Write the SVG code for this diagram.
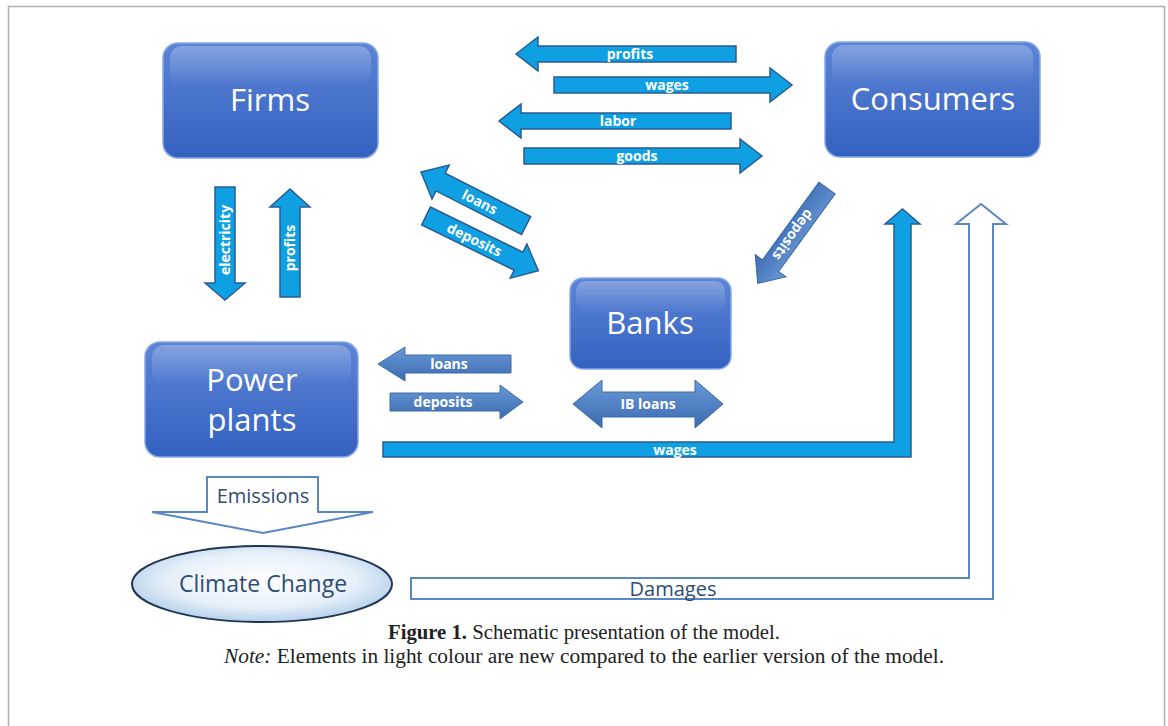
<svg xmlns="http://www.w3.org/2000/svg" width="1168" height="726" viewBox="0 0 1168 726">
  <style>
    .box { fill: url(#boxFill); stroke: #86a8e6; stroke-width: 1.5; }
    .gloss { fill: url(#gloss); }
    .boxText { font-family: "Open Sans", "Liberation Sans", sans-serif; font-size: 31px; fill: #ffffff; text-anchor: middle; }
    .flow { fill: #0ea0e2; stroke: #2a5c92; stroke-width: 1.5; stroke-linejoin: miter; }
    .bankFlow { fill: url(#steel); stroke: #3c6aa6; stroke-width: 1; }
    .outline { fill: #ffffff; stroke: #5a86c4; stroke-width: 2; }
    .lbl { font-family: "Open Sans", "Liberation Sans", sans-serif; font-size: 14px; font-weight: bold; fill: #ffffff; text-anchor: middle; }
    .soft { font-family: "Open Sans", "Liberation Sans", sans-serif; font-size: 20px; fill: #2f4c72; text-anchor: middle; }
    .big { font-size: 23px; }
    .cap { font-family: "Liberation Serif", serif; font-size: 20.5px; fill: #222222; text-anchor: middle; }
  </style>
  <defs>
    <linearGradient id="boxFill" x1="0" y1="0" x2="0" y2="1">
      <stop offset="0" stop-color="#5c85d6"/>
      <stop offset="1" stop-color="#3460c0"/>
    </linearGradient>
    <linearGradient id="gloss" x1="0" y1="0" x2="0" y2="1">
      <stop offset="0" stop-color="#ffffff" stop-opacity="0.25"/>
      <stop offset="1" stop-color="#ffffff" stop-opacity="0"/>
    </linearGradient>
    <linearGradient id="steel" x1="0" y1="0" x2="0" y2="1">
      <stop offset="0" stop-color="#6a9ad8"/>
      <stop offset="1" stop-color="#3b6ab0"/>
    </linearGradient>
    <radialGradient id="cloud" cx="0.5" cy="0.45" r="0.6">
      <stop offset="0" stop-color="#ffffff"/>
      <stop offset="0.6" stop-color="#e6f0fa"/>
      <stop offset="1" stop-color="#a9c8e6"/>
    </radialGradient>
  </defs>

  <!-- page frame -->
  <rect x="8.5" y="6.5" width="1156" height="730" fill="#ffffff" stroke="#b0b0b0" stroke-width="1.5"/>

  <!-- flows between the sectors -->
  <g id="connectors">
    <!-- firms <-> consumers -->
    <polygon class="flow" points="516,54 538,37 538,46 736,46 736,62 538,62 538,71"/>
    <text class="lbl" x="630" y="59">profits</text>
    <polygon class="flow" points="554,77 770,77 770,68 792,85 770,102 770,93 554,93"/>
    <text class="lbl" x="667" y="90">wages</text>
    <polygon class="flow" points="499,121 521,104 521,113 731,113 731,129 521,129 521,138"/>
    <text class="lbl" x="618" y="126">labor</text>
    <polygon class="flow" points="524,148 740,148 740,139 762,156 740,173 740,164 524,164"/>
    <text class="lbl" x="637" y="161">goods</text>

    <!-- firms <-> power plants -->
    <polygon class="flow" points="215,187 235,187 235,283 245,283 225,300 205,283 215,283"/>
    <text class="lbl" transform="translate(225,240) rotate(-90)" y="5">electricity</text>
    <polygon class="flow" points="280,297 300,297 300,207 310,207 290,189 270,207 280,207"/>
    <text class="lbl" transform="translate(290,248) rotate(-90)" y="5">profits</text>

    <!-- firms <-> banks -->
    <g transform="translate(421,172) rotate(27)">
      <polygon class="flow" points="0,0 22,-19 22,-10 118,-10 118,10 22,10 22,19"/>
      <text class="lbl" x="66" y="5">loans</text>
    </g>
    <g transform="translate(426,216) rotate(26)">
      <polygon class="flow" points="0,-10 103,-10 103,-19 125,0 103,19 103,10 0,10"/>
      <text class="lbl" x="54" y="5">deposits</text>
    </g>

    <!-- consumers -> banks -->
    <g transform="translate(827,188) rotate(126)">
      <polygon class="bankFlow" points="0,-10 96,-10 96,-19 118,0 96,19 96,10 0,10"/>
      <text class="lbl" x="58" y="5">deposits</text>
    </g>

    <!-- power plants <-> banks -->
    <polygon class="bankFlow" points="378,364 405,347 405,355 511,355 511,373 405,373 405,381"/>
    <text class="lbl" x="449" y="369">loans</text>
    <polygon class="bankFlow" points="390,393 500,393 500,385 523,402 500,419 500,411 390,411"/>
    <text class="lbl" x="443" y="407">deposits</text>

    <!-- interbank loans -->
    <polygon class="bankFlow" points="573,404 602,380 602,392 695,392 695,380 723,404 695,428 695,417 602,417 602,428"/>
    <text class="lbl" x="648" y="409">IB loans</text>

    <!-- power plants -> consumers wages -->
    <polygon class="flow" points="383,442 894,442 894,224 885,224 902.5,209 920,224 911,224 911,457 383,457"/>
    <text class="lbl" x="675" y="455">wages</text>

    <!-- emissions -->
    <polygon class="outline" points="207,477 318,477 318,512 373,512 263,533 152,512 207,512"/>
    <text class="soft" x="263" y="503">Emissions</text>

    <!-- damages -->
    <polygon class="outline" points="411,578 969,578 969,224 956,224 981,204 1006,224 993,224 993,599 411,599"/>
    <text class="soft" x="673" y="596">Damages</text>
  </g>

  <g id="firms">
    <rect class="box" x="163" y="43" width="215" height="115" rx="15"/>
    <rect class="gloss" x="170" y="46" width="201" height="40" rx="12"/>
    <text class="boxText" x="270" y="111">Firms</text>
  </g>

  <g id="consumers">
    <rect class="box" x="825" y="42" width="215" height="115" rx="15"/>
    <rect class="gloss" x="832" y="45" width="201" height="40" rx="12"/>
    <text class="boxText" x="933" y="110">Consumers</text>
  </g>

  <g id="banks">
    <rect class="box" x="570" y="278" width="161" height="91" rx="13"/>
    <rect class="gloss" x="576" y="281" width="149" height="32" rx="10"/>
    <text class="boxText" x="650" y="334">Banks</text>
  </g>

  <g id="power-plants">
    <rect class="box" x="145" y="342" width="213" height="115" rx="15"/>
    <rect class="gloss" x="152" y="345" width="199" height="40" rx="12"/>
    <text class="boxText" x="252" y="391">Power</text>
    <text class="boxText" x="252" y="431">plants</text>
  </g>

  <g id="climate-change">
    <ellipse cx="262" cy="584" rx="130" ry="38" fill="url(#cloud)" stroke="#1f3552" stroke-width="2"/>
    <text class="soft big" x="263" y="592">Climate Change</text>
  </g>

  <!-- caption -->
  <text class="cap" x="584" y="639" textLength="392" lengthAdjust="spacingAndGlyphs"><tspan font-weight="bold">Figure 1.</tspan> Schematic presentation of the model.</text>
  <text class="cap" x="584" y="663" textLength="720" lengthAdjust="spacingAndGlyphs"><tspan font-style="italic">Note:</tspan> Elements in light colour are new compared to the earlier version of the model.</text>
</svg>
